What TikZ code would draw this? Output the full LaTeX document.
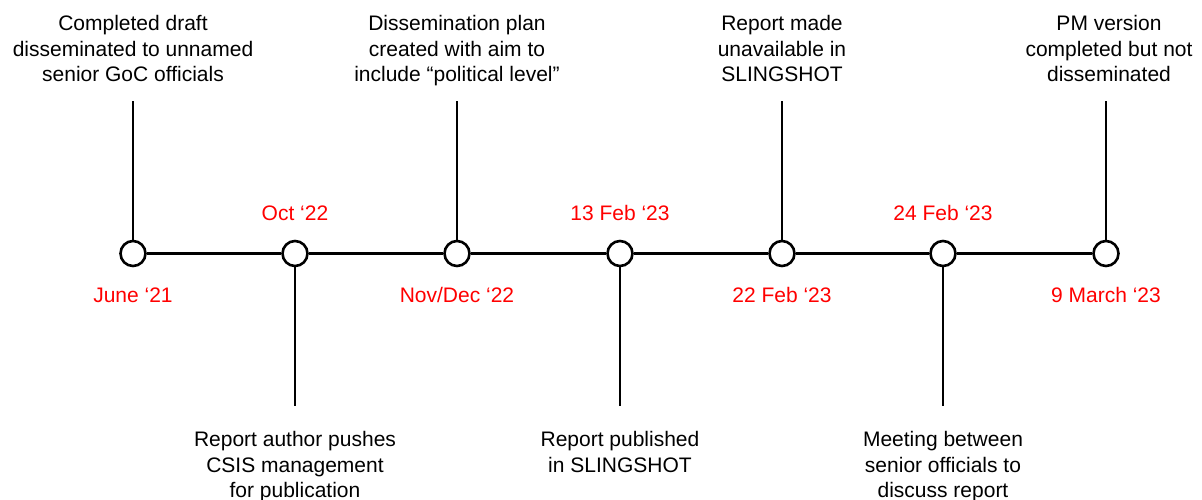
\documentclass[tikz,border=0pt]{standalone}
\usepackage{fontspec}
\setmainfont{Liberation Sans}
\begin{document}
\begin{tikzpicture}[x=1pt,y=1pt,
  ev/.style={circle,draw=black,fill=white,line width=2.6pt,minimum size=25pt,inner sep=0pt},
  conn/.style={line width=2.6pt,black},
  desc/.style={align=center,inner sep=0pt,font=\fontsize{21}{25.6}\selectfont,text=black},
  date/.style={inner sep=0pt,font=\fontsize{21}{25.6}\selectfont,text=red,anchor=base}]
\useasboundingbox (0,0) rectangle (1202,-499);
% events on the timeline
\node[ev] (c1) at (133,-253.5) {};
\node[ev] (c2) at (295,-253.5) {};
\node[ev] (c3) at (457,-253.5) {};
\node[ev] (c4) at (620,-253.5) {};
\node[ev] (c5) at (782,-253.5) {};
\node[ev] (c6) at (943,-253.5) {};
\node[ev] (c7) at (1106,-253.5) {};
% line ends
\coordinate (t1) at (133,-101);
\coordinate (b2) at (295,-406);
\coordinate (t3) at (457,-101);
\coordinate (b4) at (620,-406);
\coordinate (t5) at (782,-101);
\coordinate (b6) at (943,-406);
\coordinate (t7) at (1106,-101);
% connectors
\draw[conn] (c1) -- (c2);
\draw[conn] (c2) -- (c3);
\draw[conn] (c3) -- (c4);
\draw[conn] (c4) -- (c5);
\draw[conn] (c5) -- (c6);
\draw[conn] (c6) -- (c7);
\draw[conn] (t1) -- (c1);
\draw[conn] (c2) -- (b2);
\draw[conn] (t3) -- (c3);
\draw[conn] (c4) -- (b4);
\draw[conn] (t5) -- (c5);
\draw[conn] (c6) -- (b6);
\draw[conn] (t7) -- (c7);
% dates
\node[date] (d1) at (133,-302) {June ‘21};
\node[date] (d2) at (295,-220) {Oct ‘22};
\node[date] (d3) at (457,-302) {Nov/Dec ‘22};
\node[date] (d4) at (620,-220) {13 Feb ‘23};
\node[date] (d5) at (782,-302) {22 Feb ‘23};
\node[date] (d6) at (943,-220) {24 Feb ‘23};
\node[date] (d7) at (1106,-302) {9 March ‘23};
% descriptions
\node[desc,anchor=north] (e1) at (133,-15) {Completed draft\\disseminated to unnamed\\senior GoC officials};
\node[desc,anchor=north] (e2) at (295,-431) {Report author pushes\\CSIS management\\for publication};
\node[desc,anchor=north] (e3) at (457,-15) {Dissemination plan\\created with aim to\\include “political level”};
\node[desc,anchor=north] (e4) at (620,-431) {Report published\\in SLINGSHOT};
\node[desc,anchor=north] (e5) at (782,-15) {Report made\\unavailable in\\SLINGSHOT};
\node[desc,anchor=north] (e6) at (943,-431) {Meeting between\\senior officials to\\discuss report};
\node[desc,anchor=north] (e7) at (1109,-15) {PM version\\completed but not\\disseminated};
\end{tikzpicture}
\end{document}
